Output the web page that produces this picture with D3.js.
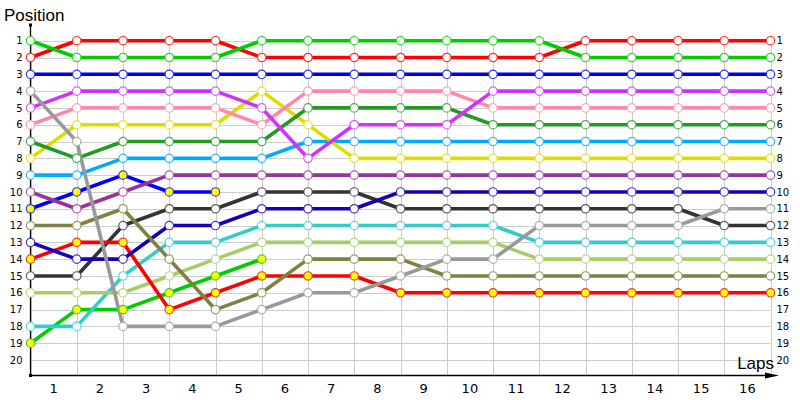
<!DOCTYPE html>
<html>
<head>
<meta charset="utf-8">
<script src="https://cdn.jsdelivr.net/npm/d3@7"></script>
<style>
	body { margin: 0; background: #fff; }
	svg { display: block; }
	.tick text { font-family: "DejaVu Sans", sans-serif; fill: #001; }
	.title { font-family: "Liberation Sans", Arial, sans-serif; font-size: 17px; fill: #000; }
</style>
</head>
<body>
<div id="chart"></div>
<script>
// laps 0 (start) .. 16
var laps = [0, 1, 2, 3, 4, 5, 6, 7, 8, 9, 10, 11, 12, 13, 14, 15, 16];
var lapLabels = ["1", "2", "3", "4", "5", "6", "7", "8", "9", "10", "11", "12", "13", "14", "15", "16"];
var positions = [1, 2, 3, 4, 5, 6, 7, 8, 9, 10, 11, 12, 13, 14, 15, 16, 17, 18, 19, 20];

// position of each car after every lap (shorter arrays = retired)
var carA = [1, 2, 2, 2, 2, 1, 1, 1, 1, 1, 1, 1, 2, 2, 2, 2, 2];
var carB = [2, 1, 1, 1, 1, 2, 2, 2, 2, 2, 2, 2, 1, 1, 1, 1, 1];
var carC = [3, 3, 3, 3, 3, 3, 3, 3, 3, 3, 3, 3, 3, 3, 3, 3, 3];
var carR = [4, 7, 18, 18, 18, 17, 16, 16, 15, 14, 14, 12, 12, 12, 12, 11, 11];
var carD = [5, 4, 4, 4, 4, 5, 8, 6, 6, 6, 4, 4, 4, 4, 4, 4, 4];
var carE = [6, 5, 5, 5, 5, 6, 4, 4, 4, 4, 5, 5, 5, 5, 5, 5, 5];
var carG = [7, 8, 7, 7, 7, 7, 5, 5, 5, 5, 6, 6, 6, 6, 6, 6, 6];
var carF = [8, 6, 6, 6, 6, 4, 6, 8, 8, 8, 8, 8, 8, 8, 8, 8, 8];
var carH = [9, 9, 8, 8, 8, 8, 7, 7, 7, 7, 7, 7, 7, 7, 7, 7, 7];
var carI = [10, 11, 10, 9, 9, 9, 9, 9, 9, 9, 9, 9, 9, 9, 9, 9, 9];
var carJ = [11, 10, 9, 10, 10];
var carM = [12, 12, 11, 14, 17, 16, 14, 14, 14, 15, 15, 15, 15, 15, 15, 15, 15];
var carK = [13, 14, 14, 12, 12, 11, 11, 11, 10, 10, 10, 10, 10, 10, 10, 10, 10];
var carN = [14, 13, 13, 17, 16, 15, 15, 15, 16, 16, 16, 16, 16, 16, 16, 16, 16];
var carL = [15, 15, 12, 11, 11, 10, 10, 10, 11, 11, 11, 11, 11, 11, 11, 12, 12];
var carO = [16, 16, 16, 15, 14, 13, 13, 13, 13, 13, 13, 14, 14, 14, 14, 14, 14];
var carP = [18, 18, 15, 13, 13, 12, 12, 12, 12, 12, 12, 13, 13, 13, 13, 13, 13];
var carQ = [19, 17, 17, 16, 15, 14];

var cars = [carA, carB, carC, carR, carD, carE, carG, carF, carH, carI, carJ, carM, carK, carN, carL, carO, carP, carQ];
var carColors = ["#00cc00", "#ff0000", "#0000e8", "#999999", "#cc33ff", "#ff88aa", "#229922", "#dddd00", "#00aaff",
	"#993399", "#0000ff", "#808040", "#1400b8", "#ff0000", "#333333", "#aacc66", "#33cccc", "#00cc00"];
var carYellow = [false, false, false, false, false, false, false, false, false,
	false, true, false, false, true, false, false, false, true];

var width = 800, height = 400;

var svg = d3.select("#chart").append("svg")
	.attr("width", width)
	.attr("height", height);

var x = d3.scaleLinear().domain([0, 16]).range([30.5, 770.5]);
var y = d3.scaleLinear().domain([1, 20]).range([40.7, 360]);
var xBand = d3.scaleBand().domain(lapLabels).range([x(0), x(16)]);

var axisY0 = 375.5, axisTop = 25;

// grid
var grid = svg.append("g").attr("stroke", "#cccccc").attr("stroke-width", 1);
grid.selectAll("line.h")
		.data(positions)
	.enter().append("line")
		.attr("class", "h")
		.attr("x1", x(0)).attr("x2", x(16))
		.attr("y1", function(d){ return Math.round(y(d)) + 0.5; })
		.attr("y2", function(d){ return Math.round(y(d)) + 0.5; });
grid.selectAll("line.v")
		.data(laps)
	.enter().append("line")
		.attr("class", "v")
		.attr("x1", function(d){ return Math.round(x(d)) + 0.5; })
		.attr("x2", function(d){ return Math.round(x(d)) + 0.5; })
		.attr("y1", 35).attr("y2", axisY0);

// axes labels
svg.append("g")
		.attr("transform", "translate(" + x(0) + ",0)")
		.call(d3.axisLeft(y).tickValues(positions).tickSize(0).tickPadding(8))
		.call(function(g){ g.select(".domain").remove(); })
		.selectAll("text").style("font-size", "10px");

svg.append("g")
		.attr("transform", "translate(" + x(16) + ",0)")
		.call(d3.axisRight(y).tickValues(positions).tickSize(0).tickPadding(6))
		.call(function(g){ g.select(".domain").remove(); })
		.selectAll("text").style("font-size", "10px");

svg.append("g")
		.attr("transform", "translate(0," + axisY0 + ")")
		.call(d3.axisBottom(xBand).tickSize(0).tickPadding(8))
		.call(function(g){ g.select(".domain").remove(); })
		.selectAll("text").style("font-size", "13px");

// axis lines
svg.append("line")
	.attr("x1", 30.5).attr("x2", 30.5).attr("y1", axisTop).attr("y2", axisY0)
	.attr("stroke", "#000").attr("stroke-width", 1.3);
svg.append("line")
	.attr("x1", 30.5).attr("x2", 768).attr("y1", axisY0).attr("y2", axisY0)
	.attr("stroke", "#000").attr("stroke-width", 1.3);
svg.append("rect").attr("x", 29).attr("y", axisTop - 1.5).attr("width", 3).attr("height", 3).attr("fill", "#000");
svg.append("rect").attr("x", 29).attr("y", axisY0 - 1.5).attr("width", 3).attr("height", 3).attr("fill", "#000");
svg.append("path")
	.attr("d", "M765," + (axisY0 - 3) + "L779," + axisY0 + "L765," + (axisY0 + 3) + "Z")
	.attr("fill", "#000");

svg.append("text").attr("class", "title")
	.attr("x", 4).attr("y", 21).text("Position");
svg.append("text").attr("class", "title")
	.attr("x", 774).attr("y", 369).attr("text-anchor", "end").text("Laps");

// lines, last starters drawn first
var line = d3.line()
	.x(function(d, i){ return x(laps[i]); })
	.y(function(d){ return y(d); });

var order = d3.range(cars.length).reverse();

svg.append("g")
		.selectAll("path")
		.data(order)
	.enter().append("path")
		.attr("d", function(i){ return line(cars[i]); })
		.attr("fill", "none")
		.attr("stroke", function(i){ return carColors[i]; })
		.attr("stroke-width", 3.6)
		.attr("stroke-linejoin", "round");

var markers = svg.append("g")
		.selectAll("g")
		.data(order)
	.enter().append("g");

markers.selectAll("circle")
		.data(function(i){
			return cars[i].map(function(p, k){ return {car: i, lap: laps[k], pos: p}; });
		})
	.enter().append("circle")
		.attr("cx", function(d){ return x(d.lap); })
		.attr("cy", function(d){ return y(d.pos); })
		.attr("r", 4.2)
		.attr("fill", function(d){ return carYellow[d.car] ? "#ffff00" : "#ffffff"; })
		.attr("stroke", function(d){ return d3.interpolateRgb(carColors[d.car], "#ffffff")(0.2); })
		.attr("stroke-width", 1.2);
</script>
</body>
</html>
